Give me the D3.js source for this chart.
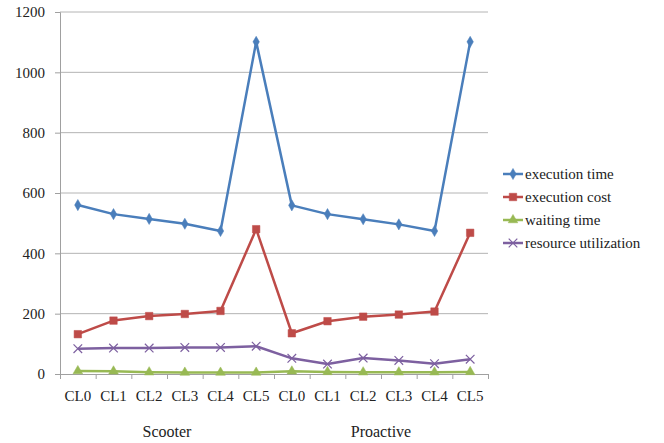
<!DOCTYPE html>
<html>
<head>
<meta charset="utf-8">
<script src="https://cdn.jsdelivr.net/npm/d3@7"></script>
<style>
  body { margin: 0; background: #fff; }
</style>
</head>
<body>
<div id="chart"></div>
<script>
// Data
var categories = ["CL0", "CL1", "CL2", "CL3", "CL4", "CL5", "CL0", "CL1", "CL2", "CL3", "CL4", "CL5"];
var groups = ["Scooter", "Proactive"];
var yTicks = [0, 200, 400, 600, 800, 1000, 1200];

var executionTime = [560, 530, 514, 498, 474, 1101, 559, 530, 513, 496, 474, 1101];
var executionCost = [132, 177, 192, 199, 209, 480, 135, 175, 190, 197, 207, 468];
var waitingTime = [10, 9, 6, 5, 5, 5, 9, 7, 6, 6, 6, 7];
var resourceUtilization = [84, 86, 86, 88, 88, 92, 52, 33, 53, 45, 34, 49];

var series = [
    { name: "execution time", values: executionTime, color: "#4a7ebb", symbol: d3.symbolDiamond, size: 36, filled: true },
    { name: "execution cost", values: executionCost, color: "#be4b48", symbol: d3.symbolSquare, size: 56, filled: true },
    { name: "waiting time", values: waitingTime, color: "#98b954", symbol: d3.symbolTriangle, size: 40, filled: true },
    { name: "resource utilization", values: resourceUtilization, color: "#7d60a0", symbol: d3.symbolX, size: 50, filled: false }
];

var serif = "Liberation Serif";
var width = 664, height = 443;
var plotLeft = 60, plotRight = 488, plotTop = 12, plotBottom = 374;

var svg = d3.select("#chart").append("svg")
    .attr("width", width)
    .attr("height", height);

var idx = d3.range(categories.length);

var x = d3.scaleBand()
    .domain(idx)
    .range([plotLeft, plotRight])
    .padding(0);

// boundaries for the small tick marks between categories
var xEdges = d3.scaleLinear()
    .domain([0, categories.length])
    .range([plotLeft, plotRight]);

var y = d3.scaleLinear()
    .domain([0, 1200])
    .range([plotBottom, plotTop]);

// gridlines
svg.append("g")
    .selectAll("line")
    .data(yTicks.filter(d => d > 0))
    .enter()
    .append("line")
    .attr("x1", plotLeft)
    .attr("x2", plotRight)
    .attr("y1", d => y(d))
    .attr("y2", d => y(d))
    .attr("stroke", "#b4b4b4")
    .attr("stroke-width", 1);

// y axis
var yAxis = svg.append("g")
    .attr("transform", "translate(" + plotLeft + ",0)")
    .call(d3.axisLeft(y).tickValues(yTicks).tickSize(5).tickPadding(10).tickFormat(d3.format("d")));
yAxis.select(".domain").attr("stroke", "#a0a0a0");
yAxis.selectAll(".tick line").attr("stroke", "#a0a0a0");
yAxis.selectAll("text").style("font-size", "15px").style("font-family", serif).attr("fill", "#222");

// x axis: tick marks on category edges
var xTickAxis = svg.append("g")
    .attr("transform", "translate(0," + plotBottom + ")")
    .call(d3.axisBottom(xEdges).tickValues(d3.range(categories.length + 1)).tickSize(5).tickFormat(""));
xTickAxis.select(".domain").attr("stroke", "#a0a0a0");
xTickAxis.selectAll(".tick line").attr("stroke", "#a0a0a0");

// x axis: labels at category centres
var xLabelAxis = svg.append("g")
    .attr("transform", "translate(0," + plotBottom + ")")
    .call(d3.axisBottom(x).tickSize(0).tickPadding(16).tickFormat(i => categories[i]));
xLabelAxis.select(".domain").remove();
xLabelAxis.selectAll("text").style("font-size", "15px").style("font-family", serif).attr("fill", "#222");

// group labels
svg.selectAll(".group")
    .data(groups)
    .enter()
    .append("text")
    .attr("class", "group")
    .attr("x", (d, g) => (x(g * 6) + x(g * 6 + 5) + x.bandwidth()) / 2)
    .attr("y", 437)
    .attr("text-anchor", "middle")
    .attr("fill", "#222")
    .style("font-family", serif)
    .style("font-size", "16px")
    .text(d => d);

var line = d3.line()
    .x((d, i) => x(i) + x.bandwidth() / 2)
    .y(d => y(d));

series.forEach(function(s) {
    svg.append("path")
        .datum(s.values)
        .attr("fill", "none")
        .attr("stroke", s.color)
        .attr("stroke-width", 2.5)
        .attr("stroke-linejoin", "round")
        .attr("d", line);

    svg.append("g")
        .selectAll("path")
        .data(s.values)
        .enter()
        .append("path")
        .attr("transform", (d, i) => "translate(" + (x(i) + x.bandwidth() / 2) + "," + y(d) + ")")
        .attr("d", d3.symbol().type(s.symbol).size(s.size))
        .attr("fill", s.filled ? s.color : "none")
        .attr("stroke", s.color)
        .attr("stroke-width", s.filled ? 0.5 : 1.2);
});

// legend
var legend = svg.append("g")
    .selectAll("g")
    .data(series)
    .enter()
    .append("g")
    .attr("transform", (d, i) => "translate(503," + (174 + i * 23) + ")");

legend.append("line")
    .attr("x1", 0)
    .attr("x2", 20)
    .attr("stroke", d => d.color)
    .attr("stroke-width", 2.5);

legend.append("path")
    .attr("transform", "translate(10,0)")
    .attr("d", d => d3.symbol().type(d.symbol).size(d.size)())
    .attr("fill", d => d.filled ? d.color : "none")
    .attr("stroke", d => d.color)
    .attr("stroke-width", d => d.filled ? 0.5 : 1.2);

legend.append("text")
    .attr("x", 22)
    .attr("dy", "0.35em")
    .attr("fill", "#222")
    .style("font-family", serif)
    .style("font-size", "15px")
    .text(d => d.name);
</script>
</body>
</html>
